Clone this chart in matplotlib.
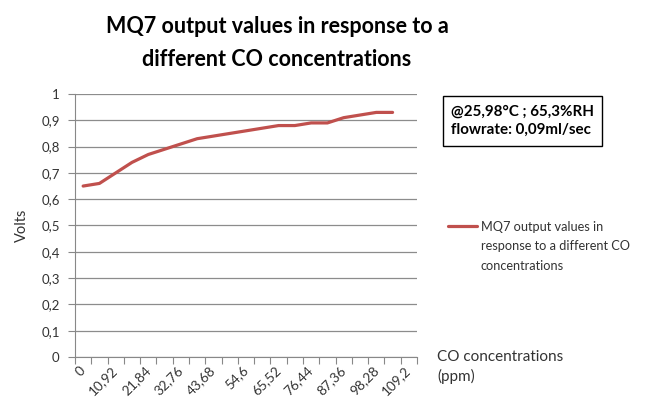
import numpy as np
import matplotlib.pyplot as plt
from matplotlib.legend_handler import HandlerLine2D

# CO concentration categories (ppm) and MQ7 output voltage
conc = [0, 5.46, 10.92, 16.38, 21.84, 27.3, 32.76, 38.22, 43.68, 49.14, 54.6,
        60.06, 65.52, 70.98, 76.44, 81.9, 87.36, 92.82, 98.28, 103.74, 109.2]
volts = [0.65, 0.66, 0.70, 0.74, 0.77, 0.79, 0.81, 0.83, 0.84, 0.85, 0.86,
         0.87, 0.88, 0.88, 0.89, 0.89, 0.91, 0.92, 0.93, 0.93]
yticks = [0, 0.1, 0.2, 0.3, 0.4, 0.5, 0.6, 0.7, 0.8, 0.9, 1]

plt.rcParams['font.family'] = ['Lato', 'DejaVu Sans']


# legend line next to the first text line, like Excel does
class TopLine(HandlerLine2D):
    def create_artists(self, legend, orig_handle, xdescent, ydescent, width, height, fontsize, trans):
        return super().create_artists(legend, orig_handle, xdescent, ydescent - 2 * 14.5,
                                      width, height, fontsize, trans)


fig = plt.figure(figsize=(6.54, 4.15), dpi=100)
ax = fig.add_axes([75/654, 1-357/415, (417-75)/654, (357-94)/415])

x = np.arange(len(conc))
y = volts + [np.nan] * (len(conc) - len(volts))
line, = ax.plot(x, y, color='#C0504D', lw=2.3, solid_capstyle='round',
                label='MQ7 output values in\nresponse to a different CO\nconcentrations')

ax.set_xlim(-0.5, len(conc) - 0.5)
ax.set_ylim(0, 1)

# tick marks sit between categories, labels on every other category
ax.set_xticks(np.arange(-0.5, len(conc), 1.0))
ax.set_xticklabels([])
ax.set_xticks(x[::2], minor=True)
ax.set_xticklabels([('%g' % c).replace('.', ',') for c in conc[::2]], minor=True,
                   rotation=45, ha='right', va='center', rotation_mode='anchor')
ax.tick_params(axis='x', which='major', length=5, color='#888888', direction='out')
ax.tick_params(axis='x', which='minor', length=0, pad=8, labelsize=9.8, labelcolor='#333333')

ax.set_yticks(yticks)
ax.set_yticklabels([('%g' % t).replace('.', ',') for t in yticks])
ax.tick_params(axis='y', length=5, color='#888888', labelsize=9.5, labelcolor='#333333', pad=6)

ax.grid(axis='y', color='#8c8c8c', lw=0.9)
ax.set_axisbelow(True)
for s in ['top', 'right']:
    ax.spines[s].set_visible(False)
ax.spines['left'].set_color('#888888')
ax.spines['bottom'].set_color('#888888')

ax.set_ylabel('Volts', fontsize=10.5, color='#333333', labelpad=9)

fig.text(277/654, 1-43/415, 'MQ7 output values in response to a\ndifferent CO concentrations',
         ha='center', va='center', fontsize=15.5, fontweight='bold', linespacing=1.75)

fig.text(437/654, 1-350/415, 'CO concentrations\n(ppm)', ha='left', va='top',
         fontsize=11, color='#333333', linespacing=1.45)

fig.text(451/654, 1-121/415, '@25,98°C ; 65,3%RH\nflowrate: 0,09ml/sec', ha='left',
         va='center', fontsize=10.9, fontweight='bold', linespacing=1.4,
         bbox=dict(boxstyle='square,pad=0.55', fc='white', ec='black', lw=1))

leg = ax.legend(loc='upper left', bbox_to_anchor=(436/654, 1-209/415), bbox_transform=fig.transFigure,
                frameon=False, fontsize=9.2, handlelength=2.3, handletextpad=0.3,
                labelcolor='#333333', handler_map={line: TopLine()})
for t in leg.get_texts():
    t.set_linespacing(1.75)

fig.savefig('out.png')
